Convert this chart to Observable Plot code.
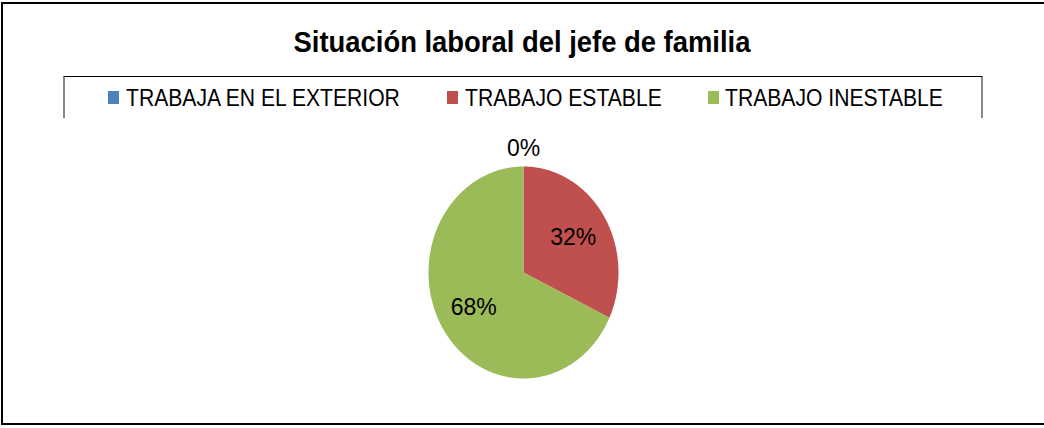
<!DOCTYPE html>
<html>
<head>
<meta charset="utf-8">
<script src="https://cdn.jsdelivr.net/npm/d3@7"></script>
<script src="https://cdn.jsdelivr.net/npm/@observablehq/plot@0.6"></script>
<style>
  html, body { margin: 0; padding: 0; background: #fff; }
  #wrap { position: relative; width: 1044px; height: 428px; overflow: hidden; font-family: "Liberation Sans", Arial, sans-serif; }
  #frame { position: absolute; left: 1px; top: 2px; width: 1060px; height: 423px; border-left: 2px solid #000; border-top: 2px solid #000; border-bottom: 2px solid #000; box-sizing: border-box; }
  #title { position: absolute; left: 0; width: 1044px; top: 25px; text-align: center; font-weight: bold; font-size: 29px; line-height: 34px; color: #000; transform: scaleX(0.945); transform-origin: 522px center; }
  #legendbox { position: absolute; left: 63px; top: 76px; width: 920px; height: 42px; border-top: 1.5px solid #000; border-left: 2px solid #888; border-right: 2px solid #888; box-sizing: border-box; }
  .lg-sw { position: absolute; top: 91px; width: 11px; height: 13px; }
  .lg-tx { position: absolute; top: 84px; font-size: 24px; line-height: 28px; color: #000; white-space: nowrap; transform: scaleX(0.88); transform-origin: left center; }
  #chart { position: absolute; left: 0; top: 0; }
</style>
</head>
<body>
<div id="wrap">
  <div id="frame"></div>
  <div id="title"></div>
  <div id="legendbox"></div>
  <div id="legend"></div>
  <div id="chart"></div>
</div>
<script>
const title = "Situación laboral del jefe de familia";
const categories = ["TRABAJA EN EL EXTERIOR", "TRABAJO ESTABLE", "TRABAJO INESTABLE"];
const values = [0, 32, 68];
const labels = ["0%", "32%", "68%"];
const colors = ["#4F81BD", "#C0504D", "#9BBB59"];

document.getElementById("title").textContent = title;

// legend
const legendSwatchX = [108, 447, 708];
const legendTextX = [126, 465, 725];
const legend = document.getElementById("legend");
categories.forEach((c, i) => {
  const sw = document.createElement("div");
  sw.className = "lg-sw";
  sw.style.left = legendSwatchX[i] + "px";
  sw.style.background = colors[i];
  legend.appendChild(sw);
  const tx = document.createElement("div");
  tx.className = "lg-tx";
  tx.style.left = legendTextX[i] + "px";
  tx.textContent = c;
  legend.appendChild(tx);
});

// pie geometry from the data
const arcs = d3.pie().sort(null).value(d => d)(values);
const pts = [];
arcs.forEach((a, i) => {
  const cat = categories[i];
  pts.push({cat, x: 0, y: 0});
  const n = Math.max(2, Math.ceil((a.endAngle - a.startAngle) / (Math.PI / 360)));
  for (let k = 0; k <= n; k++) {
    const t = a.startAngle + (a.endAngle - a.startAngle) * k / n;
    pts.push({cat, x: Math.sin(t), y: Math.cos(t)});
  }
  pts.push({cat, x: 0, y: 0});
});
const labelData = arcs.map((a, i) => {
  const mid = (a.startAngle + a.endAngle) / 2;
  const r = values[i] > 0 ? 0.62 : 1.17;
  return {cat: categories[i], label: labels[i], x: r * Math.sin(mid), y: r * Math.cos(mid)};
});

const plot = Plot.plot({
  width: 1044,
  height: 428,
  marginLeft: 428,
  marginRight: 1044 - 618,
  marginTop: 166,
  marginBottom: 428 - 378,
  x: {domain: [-1, 1], axis: null},
  y: {domain: [-1, 1], axis: null},
  color: {domain: categories, range: colors},
  style: {background: "transparent", overflow: "visible"},
  marks: [
    Plot.line(pts, {x: "x", y: "y", z: "cat", fill: "cat", stroke: "none", curve: "linear"}),
    Plot.text(labelData, {x: "x", y: "y", text: "label", fontSize: 23, fill: "#000", fontFamily: "Liberation Sans, Arial, sans-serif"})
  ]
});
document.getElementById("chart").appendChild(plot);
</script>
</body>
</html>
